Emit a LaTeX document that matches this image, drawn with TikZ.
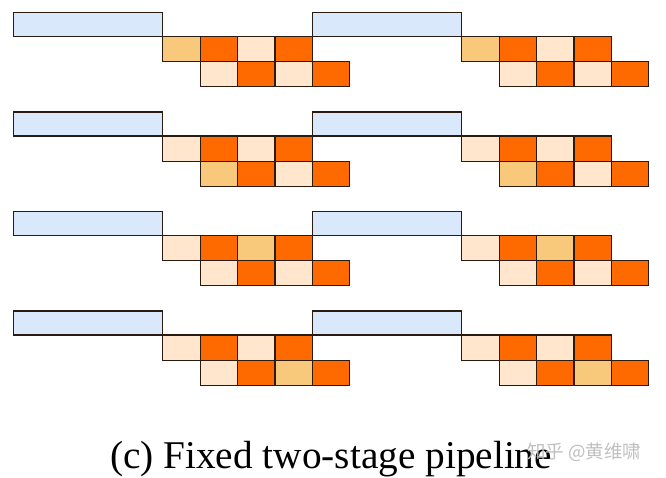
\documentclass[tikz,border=0pt]{standalone}
\usepackage{fontspec}
\setmainfont{Liberation Serif}
\newfontfamily\cjk{Noto Sans CJK SC}
\definecolor{bluefill}{HTML}{DAE8FC}
\definecolor{lightor}{HTML}{FFE6CC}
\definecolor{darkor}{HTML}{FF6A00}
\definecolor{midor}{HTML}{F8C97A}
\definecolor{edgecol}{HTML}{2A1A10}
\begin{document}
\begin{tikzpicture}[x=1pt,y=-1pt,
  cell/.style={draw=edgecol,line width=1.1pt},
  bar/.style={draw=edgecol,line width=1.1pt,fill=bluefill}]
\useasboundingbox (0,0) rectangle (666,478);
\foreach \gy/\hr/\hc in {12.5/1/1, 112/2/1, 211.5/1/3, 311/2/3}{
  \foreach \gx in {13.3,312.3}{
    \draw[bar] (\gx,\gy) rectangle ++(149.5,24);
    \foreach \r in {1,2}{
      \foreach \c in {1,...,4}{
        \def\col{lightor}%
        \ifodd\c\else\def\col{darkor}\fi
        \ifnum\r=\hr\relax\ifnum\c=\hc\relax\def\col{midor}\fi\fi
        \draw[cell,fill=\col] ({\gx+149.5+(\r-1)*37.4+(\c-1)*37.4},{\gy+24+(\r-1)*25.2}) rectangle ++(37.4,25.2);
      }
    }
  }
}
\node[anchor=base,font=\fontsize{39.3}{41}\selectfont] (cap) at (331,468) {(c) Fixed two-stage pipeline};
\node[anchor=base west,inner sep=0pt,text=black!25,font=\cjk\fontsize{18.5}{20}\selectfont] (wm) at (527,458) {知乎 @黄维啸};
\end{tikzpicture}
\end{document}
